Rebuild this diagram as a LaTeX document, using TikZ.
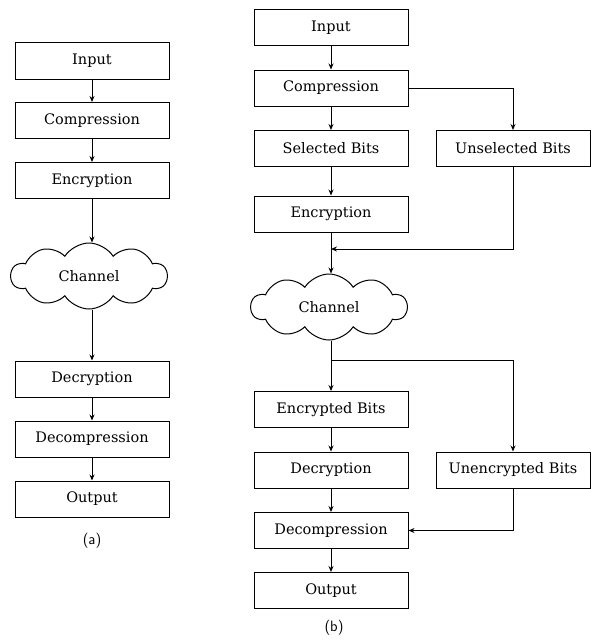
\documentclass[tikz,border=0pt]{standalone}
\usepackage{fontspec}
\setmainfont{DejaVu Serif}
\usetikzlibrary{shapes.symbols,arrows.meta}

\tikzset{
  blk/.style={draw,line width=1pt,minimum width=154pt,minimum height=36pt,inner sep=0pt,font=\fontsize{14.5}{16}\selectfont},
  chn/.style={draw,cloud,cloud puffs=10,cloud puff arc=115,aspect=2.4,line width=1pt,minimum width=156pt,minimum height=66pt,inner sep=0pt,font=\fontsize{14.5}{16}\selectfont},
  arr/.style={line width=.9pt,-{Stealth[length=6pt,width=5pt]}}
}

\begin{document}
\begin{tikzpicture}[x=1pt,y=-1pt]
\useasboundingbox (0,0) rectangle (590,642);
% (a)
       \node [blk] at (92,61) (ina) {Input};
       \node [blk] at (92,120.5) (compa) {Compression};
       \node [blk] at (92,180.5) (encra) {Encryption};
       \node [chn] at (89,276) (chana) {Channel};
       \node [blk] at (92,379) (decra) {Decryption};
       \node [blk] at (92,439) (decompa) {Decompression};
       \node [blk] at (92,499) (outa) {Output};
       \node at (92,541) (capa) {\fontsize{15}{17}\sffamily (a)};
% (b)
       \node [blk] at (331,28) (inb) {Input};
       \node [blk] at (331,88) (compb) {Compression};
       \node [blk] at (331,148.5) (selb) {Selected Bits};
       \node [blk] at (513,148.5) (unselb) {Unselected Bits};
       \node [blk] at (331,214) (encrb) {Encryption};
       \node [chn] at (329,307) (chanb) {Channel};
       \node [blk] at (331,409.5) (encbb) {Encrypted Bits};
       \node [blk] at (331,470) (decrb) {Decryption};
       \node [blk] at (513,470) (unencb) {Unencrypted Bits};
       \node [blk] at (331,530.5) (decompb) {Decompression};
       \node [blk] at (331,590.5) (outb) {Output};
       \node at (334,628) (capb) {\fontsize{15}{17}\sffamily (b)};
       \coordinate (joinb) at (331,249);
       \coordinate (splitb) at (331,360);
%
\draw[arr] (ina) -- (compa);
\draw[arr] (compa) -- (encra);
\draw[arr] (encra) -- (encra |- chana.north);
\draw[arr] (encra |- chana.south) -- (decra);
\draw[arr] (decra) -- (decompa);
\draw[arr] (decompa) -- (outa);
%
\draw[arr] (inb) -- (compb);
\draw[arr] (compb) -- (selb);
\draw[arr] (compb.east) -| (unselb);
\draw[arr] (selb) -- (encrb);
\draw[arr] (encrb) -- (encrb |- chanb.north);
\draw[arr] (unselb) |- (joinb);
\draw[line width=.9pt] (encrb |- chanb.south) -- (splitb);
\draw[arr] (splitb) -- (encbb);
\draw[arr] (splitb) -| (unencb);
\draw[arr] (encbb) -- (decrb);
\draw[arr] (decrb) -- (decompb);
\draw[arr] (unencb) |- (decompb.east);
\draw[arr] (decompb) -- (outb);
\end{tikzpicture}
\end{document}
